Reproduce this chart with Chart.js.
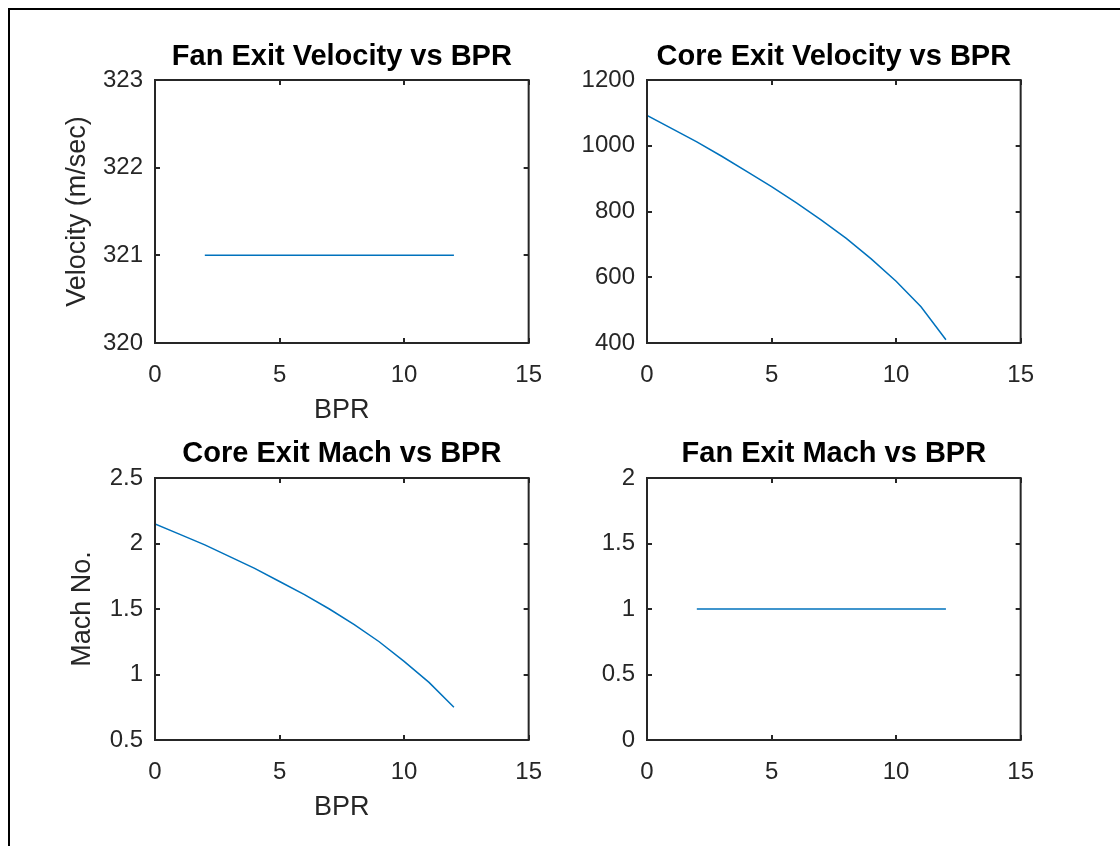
<!DOCTYPE html>
<html>
<head>
<meta charset="utf-8">
<title>Nozzle exit conditions vs BPR</title>
<script src="https://cdn.jsdelivr.net/npm/chart.js@4.4.3/dist/chart.umd.min.js"></script>
<style>
    html, body { margin: 0; padding: 0; background: #fff; overflow: hidden; }
    body { width: 1120px; height: 846px; position: relative; }
    #frame { position: absolute; left: 8px; top: 8px; width: 1200px; height: 900px; border: 2px solid #000; }
    canvas { position: absolute; }
</style>
</head>
<body>
<div id="frame"></div>
<canvas id="fanVel" width="560" height="433" style="left:0px;top:0px"></canvas>
<canvas id="coreVel" width="560" height="433" style="left:492px;top:0px"></canvas>
<canvas id="coreMach" width="560" height="432" style="left:0px;top:398px"></canvas>
<canvas id="fanMach" width="560" height="432" style="left:492px;top:398px"></canvas>
<script>
// bypass ratio sweep
const bpr = [0, 1, 2, 3, 4, 5, 6, 7, 8, 9, 10, 11, 12];
const bprFan = [2, 3, 4, 5, 6, 7, 8, 9, 10, 11, 12];

// core stream (m/sec and Mach)
const coreVelocity = [1092, 1052, 1012, 968, 922, 876, 826, 774, 718, 656, 588, 510, 410];
const coreMach = [2.15, 2.07, 1.99, 1.90, 1.81, 1.71, 1.61, 1.50, 1.38, 1.25, 1.10, 0.94, 0.75];

// fan stream stays choked
const fanVelocity = [321, 321, 321, 321, 321, 321, 321, 321, 321, 321, 321];
const fanMach = [1, 1, 1, 1, 1, 1, 1, 1, 1, 1, 1];

const xTicks = [0, 5, 10, 15];

const FONT = "'Liberation Sans', Arial, Helvetica, sans-serif";
const INK = '#262626';
const LINE_BLUE = '#0072BD';
const TITLE_SIZE = 29;

// draws the full box around the plot plus inward ticks on all four sides
const boxAxes = {
    id: 'boxAxes',
    afterDraw(chart) {
        const { ctx, chartArea: { left, right, top, bottom }, scales: { x, y } } = chart;
        const len = 5;
        ctx.save();
        ctx.strokeStyle = INK;
        ctx.lineWidth = 2;
        ctx.beginPath();
        x.ticks.forEach(t => {
            const px = Math.round(x.getPixelForValue(t.value));
            ctx.moveTo(px, bottom); ctx.lineTo(px, bottom - len);
            ctx.moveTo(px, top); ctx.lineTo(px, top + len);
        });
        y.ticks.forEach(t => {
            const py = Math.round(y.getPixelForValue(t.value));
            ctx.moveTo(left, py); ctx.lineTo(left + len, py);
            ctx.moveTo(right, py); ctx.lineTo(right - len, py);
        });
        ctx.stroke();
        ctx.strokeRect(left, top, right - left, bottom - top);
        ctx.restore();
    }
};

function makePanel(id, cfg) {
    const points = cfg.xs.map((v, i) => ({ x: v, y: cfg.ys[i] }));
    const titleLine = TITLE_SIZE * 1.2;
    return new Chart(document.getElementById(id), {
        type: 'line',
        data: {
            datasets: [{
                data: points,
                borderColor: LINE_BLUE,
                borderWidth: 1.5,
                pointRadius: 0,
                tension: 0,
                fill: false
            }]
        },
        options: {
            responsive: false,
            animation: false,
            events: [],
            layout: { padding: { left: 0, right: cfg.rightPad, top: 0, bottom: 0 } },
            plugins: {
                legend: { display: false },
                tooltip: { enabled: false },
                title: {
                    display: true,
                    fullSize: false,
                    text: cfg.title,
                    color: '#000',
                    font: { family: FONT, size: TITLE_SIZE, weight: 'bold', lineHeight: 1.2 },
                    padding: { top: cfg.titleMid - titleLine / 2, bottom: 80 - cfg.titleMid - titleLine / 2 }
                }
            },
            scales: {
                x: {
                    type: 'linear',
                    min: 0,
                    max: 15,
                    afterBuildTicks: s => { s.ticks = xTicks.map(v => ({ value: v })); },
                    afterFit: s => { s.height = 90; },
                    grid: { display: false, drawTicks: false },
                    border: { display: false },
                    ticks: {
                        color: INK,
                        padding: 18,
                        maxRotation: 0,
                        font: { family: FONT, size: 24, lineHeight: 1.2 },
                        callback: v => String(v)
                    },
                    title: {
                        display: cfg.xTitle !== '',
                        text: cfg.xTitle,
                        color: INK,
                        font: { family: FONT, size: 27, lineHeight: 1.2 },
                        padding: { top: 0, bottom: 6 }
                    }
                },
                y: {
                    type: 'linear',
                    min: cfg.yMin,
                    max: cfg.yMax,
                    afterBuildTicks: s => { s.ticks = cfg.yTicks.map(v => ({ value: v })); },
                    afterFit: s => { s.width = 155; },
                    grid: { display: false, drawTicks: false },
                    border: { display: false },
                    ticks: {
                        color: INK,
                        padding: 12,
                        font: { family: FONT, size: 24, lineHeight: 1.2 },
                        callback: v => String(v)
                    },
                    title: {
                        display: cfg.yTitle !== '',
                        text: cfg.yTitle,
                        color: INK,
                        font: { family: FONT, size: 27, lineHeight: 1.2 },
                        padding: { top: cfg.yTitlePad, bottom: 0 }
                    }
                }
            }
        },
        plugins: [boxAxes]
    });
}

makePanel('fanVel', {
    title: 'Fan Exit Velocity vs BPR',
    xs: bprFan, ys: fanVelocity,
    yMin: 320, yMax: 323, yTicks: [320, 321, 322, 323],
    xTitle: 'BPR', yTitle: 'Velocity (m/sec)', yTitlePad: 61,
    titleMid: 57, rightPad: 31
});

makePanel('coreVel', {
    title: 'Core Exit Velocity vs BPR',
    xs: bpr, ys: coreVelocity,
    yMin: 400, yMax: 1200, yTicks: [400, 600, 800, 1000, 1200],
    xTitle: '', yTitle: '', yTitlePad: 0,
    titleMid: 57, rightPad: 29
});

makePanel('coreMach', {
    title: 'Core Exit Mach vs BPR',
    xs: bpr, ys: coreMach,
    yMin: 0.5, yMax: 2.5, yTicks: [0.5, 1, 1.5, 2, 2.5],
    xTitle: 'BPR', yTitle: 'Mach No.', yTitlePad: 66,
    titleMid: 55.5, rightPad: 31
});

makePanel('fanMach', {
    title: 'Fan Exit Mach vs BPR',
    xs: bprFan, ys: fanMach,
    yMin: 0, yMax: 2, yTicks: [0, 0.5, 1, 1.5, 2],
    xTitle: '', yTitle: '', yTitlePad: 0,
    titleMid: 55.5, rightPad: 29
});
</script>
</body>
</html>
